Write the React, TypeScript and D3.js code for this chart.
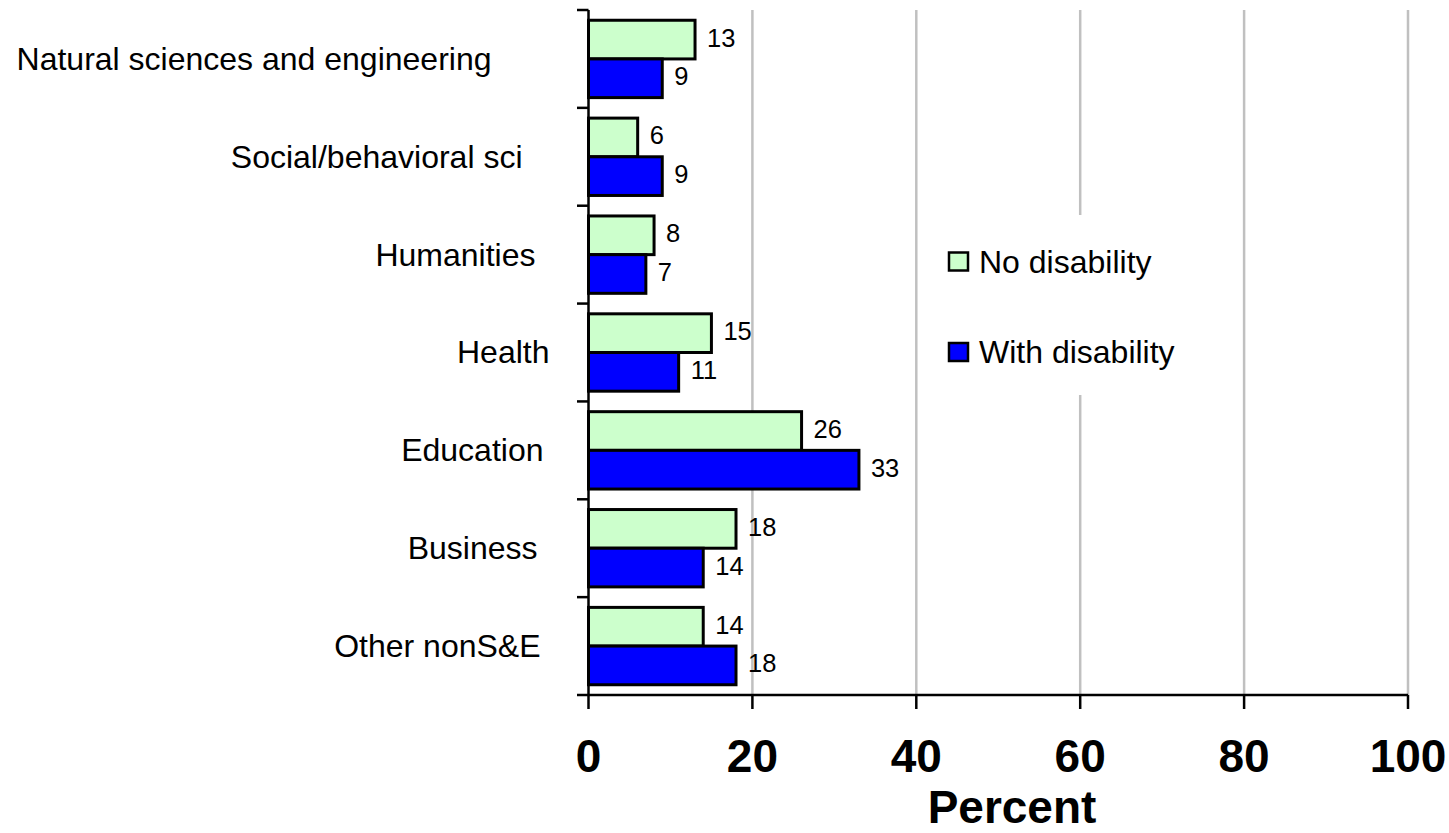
import React from "react";
import * as d3 from "d3";

// Field of bachelor's degree, by disability status (percent)
const categories = [
  "Natural sciences and engineering",
  "Social/behavioral sci",
  "Humanities",
  "Health",
  "Education",
  "Business",
  "Other nonS&E",
];
const seriesNames = ["No disability", "With disability"];
const noDisability = [13, 6, 8, 15, 26, 18, 14];
const withDisability = [9, 9, 7, 11, 33, 14, 18];
const xTicks = [0, 20, 40, 60, 80, 100];
const xTitle = "Percent";

// right-edge gap between each category label and the axis
const labelGap = [97, 66, 53, 39, 45, 51, 48];

const W = 1449;
const H = 833;
const FONT = "'Liberation Sans', Arial, Helvetica, sans-serif";
const COLORS = ["#ccffcc", "#0000ff"];

export default function App() {
  const x = d3.scaleLinear().domain([0, 100]).range([588.5, 1408]);
  const y = d3.scaleBand<string>().domain(categories).range([10, 695]).padding(0);
  const bw = y.bandwidth();
  const inner = d3
    .scaleBand<string>()
    .domain(seriesNames)
    .range([0, bw])
    .paddingInner(0)
    .paddingOuter(0.265);
  const values = [noDisability, withDisability];
  const boundaries = d3.range(categories.length + 1).map((i) => 10 + i * bw);

  return (
    <svg
      width={W}
      height={H}
      style={{ position: "absolute", left: 0, top: 0, background: "#fff" }}
      fontFamily={FONT}
    >
      {/* vertical gridlines */}
      {xTicks.slice(1).map((t) => (
        <line key={t} x1={x(t)} x2={x(t)} y1={10} y2={695} stroke="#c0c0c0" strokeWidth={2.5} />
      ))}

      {/* bars */}
      {categories.map((c, i) => (
        <g key={c} transform={`translate(0,${y(c)})`}>
          {seriesNames.map((s, k) => {
            const v = values[k][i];
            const by = inner(s) as number;
            const bh = inner.bandwidth();
            return (
              <g key={s}>
                <rect
                  x={x(0)}
                  y={by}
                  width={x(v) - x(0)}
                  height={bh}
                  fill={COLORS[k]}
                  stroke="#000"
                  strokeWidth={3}
                />
                <text
                  x={x(v) + 12}
                  y={by + bh / 2 - 2}
                  dominantBaseline="central"
                  fontSize={25.5}
                  fill="#000"
                >
                  {v}
                </text>
              </g>
            );
          })}
          <text
            x={x(0) - labelGap[i]}
            y={bw / 2}
            textAnchor="end"
            dominantBaseline="central"
            fontSize={32}
            fill="#000"
          >
            {c}
          </text>
        </g>
      ))}

      {/* legend */}
      <rect x={935} y={215} width={260} height={180} fill="#fff" />
      {seriesNames.map((s, k) => {
        const cy = k === 0 ? 261.5 : 352;
        return (
          <g key={s}>
            <rect x={949} y={cy - 9} width={19} height={18} fill={COLORS[k]} stroke="#000" strokeWidth={2.5} />
            <text x={979} y={cy} dominantBaseline="central" fontSize={32} fill="#000">
              {s}
            </text>
          </g>
        );
      })}

      {/* y axis */}
      <line x1={x(0)} x2={x(0)} y1={10} y2={695} stroke="#000" strokeWidth={2.5} />
      {boundaries.map((b, i) => (
        <line key={i} x1={577} x2={x(0)} y1={b} y2={b} stroke="#000" strokeWidth={2.5} />
      ))}

      {/* x axis */}
      <line x1={x(0)} x2={x(100)} y1={695} y2={695} stroke="#000" strokeWidth={2.5} />
      {xTicks.map((t) => (
        <g key={t}>
          <line x1={x(t)} x2={x(t)} y1={695} y2={709} stroke="#000" strokeWidth={2.5} />
          <text x={x(t)} y={772} textAnchor="middle" fontSize={46} fontWeight="bold" fill="#000">
            {t}
          </text>
        </g>
      ))}
      <text x={1012} y={823} textAnchor="middle" fontSize={46} fontWeight="bold" fill="#000">
        {xTitle}
      </text>
    </svg>
  );
}
